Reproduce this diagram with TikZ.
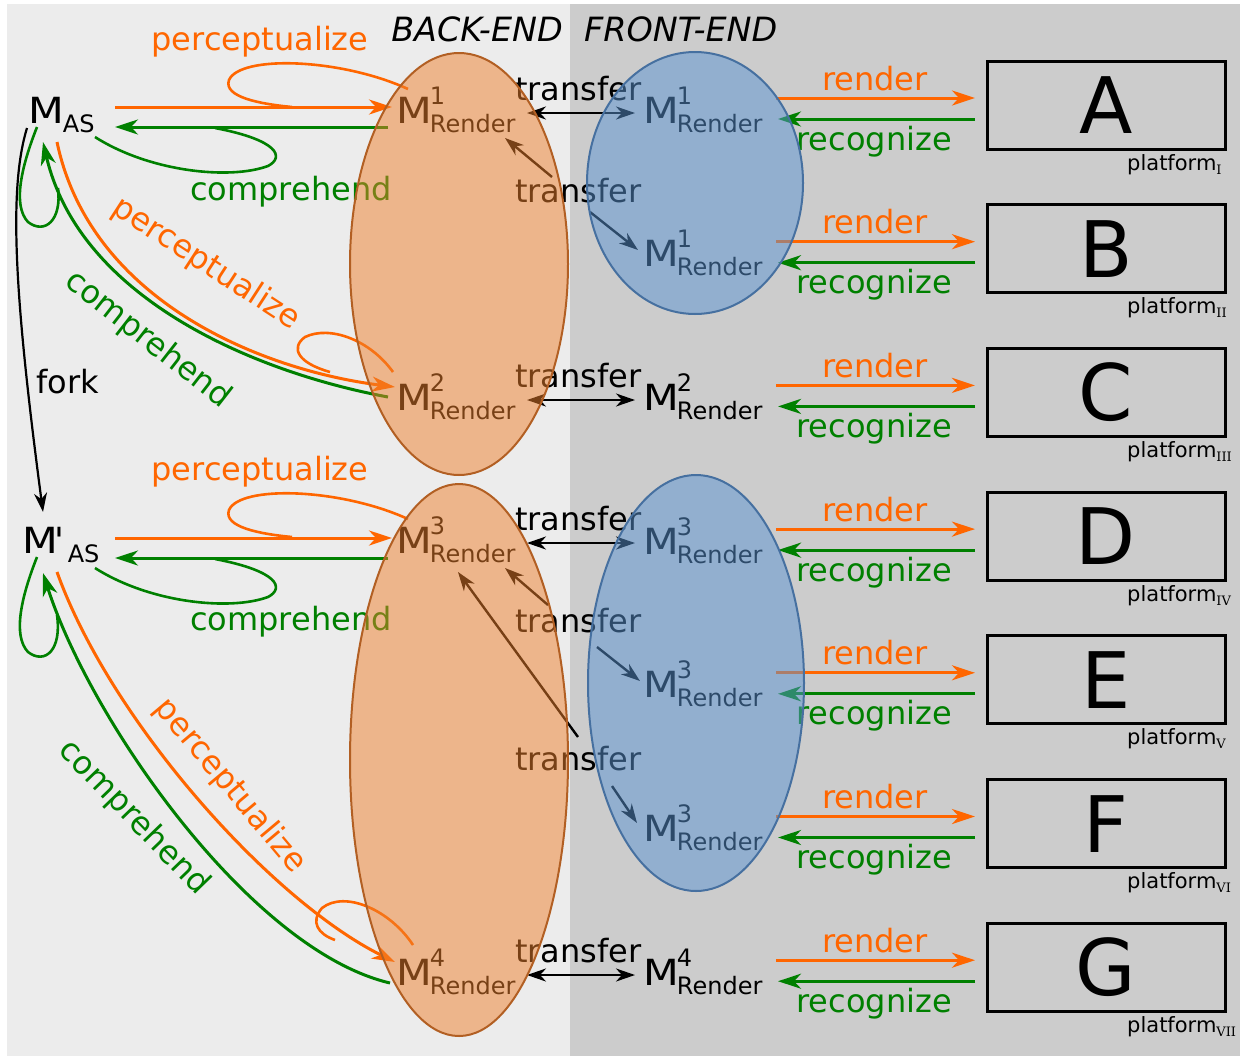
\documentclass[tikz,border=0pt]{standalone}
\usepackage{fontspec}
\setmainfont{DejaVu Sans}
\newfontfamily\romnum{DejaVu Serif}
\newfontfamily\plainsans{DejaVu Sans}
\usetikzlibrary{arrows.meta}

\definecolor{orng}{RGB}{255,102,0}
\definecolor{grn}{RGB}{0,128,0}
\definecolor{bgL}{RGB}{236,236,236}
\definecolor{bgR}{RGB}{204,204,204}
\definecolor{beFill}{RGB}{238,128,44}
\definecolor{beLine}{RGB}{178,95,35}
\definecolor{feFill}{RGB}{90,148,211}
\definecolor{feLine}{RGB}{70,112,160}

\newcommand{\subsz}{\fontsize{24}{24}\selectfont}
\newcommand{\bigM}{\scalebox{1.15}[1]{M}}
\newcommand{\MRen}[1]{\bigM\kern-2pt\rlap{\raisebox{19pt}{\subsz #1}}\raisebox{-9pt}{\subsz Render}}
\newcommand{\MAS}{\bigM\kern-1pt\raisebox{-9pt}{\subsz AS}}
\newcommand{\MpAS}{\bigM\kern-3pt{\plainsans'}\kern3pt\raisebox{-9pt}{\subsz AS}}
\newcommand{\plat}[1]{platform\raisebox{-4pt}{\romnum\fontsize{13}{13}\selectfont #1}}

\tikzset{
  mnode/.style={inner sep=0pt, anchor=base west, font=\fontsize{36}{36}\selectfont},
  lbl/.style={inner sep=0pt, font=\fontsize{32}{32}\selectfont},
  hdr/.style={inner sep=0pt, font=\fontsize{33.4}{33.4}\selectfont\itshape},
  tipbig/.tip={Stealth[length=23pt,width=15pt,inset=7pt]},
  tipsmall/.tip={Stealth[length=19pt,width=13pt,inset=6pt]},
  arr/.style={line width=3pt, -tipbig},
  thinarr/.style={line width=2.4pt, -tipsmall},
  dblarr/.style={line width=2.4pt, tipsmall-tipsmall},
  curve/.style={line width=2.6pt},
  platbox/.style={draw, line width=3pt, minimum width=238pt, minimum height=88pt, inner sep=0pt},
  letter/.style={inner sep=0pt, anchor=base, font=\fontsize{78}{78}\selectfont},
  platlbl/.style={inner sep=0pt, anchor=base west, font=\fontsize{21}{21}\selectfont},
  beEll/.style={draw=beLine, line width=2pt, fill=beFill, fill opacity=0.5},
  feEll/.style={draw=feLine, line width=2pt, fill=feFill, fill opacity=0.5}
}

\begin{document}
\begin{tikzpicture}[x=1pt,y=-1pt]
\useasboundingbox (0,0) rectangle (1240,1058);

% two panels
\fill[bgL] (7,4) rectangle (570,1056);
\fill[bgR] (570,4) rectangle (1240,1056);

% headings
\node[hdr, anchor=base east] (hBE) at (563,41) {BACK-END};
\node[hdr, anchor=base west] (hFE) at (584,41) {FRONT-END};

% abstract-syntax models
\node[mnode] (mas) at (28,123) {\MAS};
\node[mnode] (mpas) at (22,553) {\MpAS};

% back-end render models
\node[mnode] (be1) at (396,123) {\MRen{1}};
\node[mnode] (be2) at (396,410) {\MRen{2}};
\node[mnode] (be3) at (396,553) {\MRen{3}};
\node[mnode] (be4) at (396,985) {\MRen{4}};

% front-end rows: render model, platform box and the two arrows
\foreach \L/\R/\S [count=\i from 0] in {A/I/1,B/II/1,C/III/2,D/IV/3,E/V/3,F/VI/3,G/VII/4} {
  \pgfmathsetmacro\yb{123+143.7*\i}
  \node[mnode] (fe\L) at (643,\yb) {\MRen{\S}};
  \node[platbox] (box\L) at (1106,\yb-18) {};
  \node[letter] (let\L) at (1106,\yb+10.5) {\L};
  \node[platlbl] (pl\L) at (1127,\yb+47) {\plat{\R}};
  \coordinate (rs\L) at (776,\yb-25);
  \coordinate (re\L) at (975,\yb-25);
  \coordinate (gs\L) at (975,\yb-4);
  \coordinate (ge\L) at (778,\yb-4);
  \draw[arr, orng] (rs\L) -- (re\L);
  \draw[arr, grn] (gs\L) -- (ge\L);
  \node[lbl, anchor=base, text=orng] (rl\L) at (875,\yb-33) {render};
  \node[lbl, anchor=base, text=grn] (gl\L) at (874,\yb+27) {recognize};
}

% transfers between back-end and front-end
\foreach \n/\y in {1/123,2/410,3/553,4/985} {
  \coordinate (tl\n) at (527,\y-10);
  \coordinate (tr\n) at (635,\y-10);
  \draw[dblarr] (tl\n) -- (tr\n);
  \node[lbl, anchor=base west] (tx\n) at (515,\y-23) {transfer};
}

% diagonal transfers
\node[lbl, anchor=base west] (tdA) at (515,202) {transfer};
\coordinate (dA1s) at (552,177); \coordinate (dA1e) at (505,138);
\coordinate (dA2s) at (590,212); \coordinate (dA2e) at (638,250);
\draw[thinarr] (dA1s) -- (dA1e);
\draw[thinarr] (dA2s) -- (dA2e);

\node[lbl, anchor=base west] (tdB) at (515,632) {transfer};
\coordinate (dB1s) at (548,605); \coordinate (dB1e) at (505,568);
\coordinate (dB2s) at (597,647); \coordinate (dB2e) at (640,681);
\draw[thinarr] (dB1s) -- (dB1e);
\draw[thinarr] (dB2s) -- (dB2e);

\node[lbl, anchor=base west] (tdC) at (515,770) {transfer};
\coordinate (dC1s) at (578,737); \coordinate (dC1e) at (458,572);
\coordinate (dC2s) at (612,786); \coordinate (dC2e) at (637,823);
\draw[thinarr] (dC1s) -- (dC1e);
\draw[thinarr] (dC2s) -- (dC2e);

% --- upper abstract model and its links ---
\coordinate (p1s) at (115,107); \coordinate (p1e) at (392,107);
\draw[arr, orng] (p1s) -- (p1e);
\draw[curve, orng] (408,89) .. controls (340,58) and (240,55) .. (229,80)
  .. controls (223,97) and (260,104) .. (292,107);
\node[lbl, anchor=base, text=orng] (pl1) at (260,50) {perceptualize};

\coordinate (c1s) at (388,127); \coordinate (c1e) at (115,127);
\draw[arr, grn] (c1s) -- (c1e);
\draw[curve, grn] (95,137) .. controls (150,172) and (230,180) .. (268,166)
  .. controls (285,157) and (278,140) .. (215,128);
\node[lbl, anchor=base, text=grn] (cl1) at (291,200) {comprehend};

% to and from the second back-end model
\coordinate (p2s) at (57,142); \coordinate (p2e) at (395,387);
\draw[arr, orng] (p2s) .. controls (90,300) and (260,370) .. (p2e);
\draw[curve, orng] (393,372) .. controls (370,340) and (330,325) .. (305,337)
  .. controls (290,348) and (298,363) .. (330,372);
\node[lbl, text=orng, rotate=-33] (pl2) at (206,264) {perceptualize};

\coordinate (c2s) at (388,397); \coordinate (c2e) at (43,142);
\draw[arr, grn] (c2s) .. controls (258,373) and (80,300) .. (c2e);
\draw[curve, grn] (37,127) .. controls (22,165) and (12,205) .. (28,222)
  .. controls (45,235) and (62,220) .. (58,188);
\node[lbl, text=grn, rotate=-38] (cl2) at (148,340) {comprehend};

% fork
\coordinate (fk1) at (27,128); \coordinate (fk2) at (43,512);
\draw[line width=2.2pt, -tipsmall] (fk1) .. controls (8,190) and (15,300) .. (fk2);
\node[lbl, anchor=base west] (fork) at (36,393) {fork};

% --- lower abstract model and its links ---
\coordinate (p3s) at (115,538); \coordinate (p3e) at (392,538);
\draw[arr, orng] (p3s) -- (p3e);
\draw[curve, orng] (408,519) .. controls (340,488) and (240,485) .. (229,510)
  .. controls (223,527) and (260,534) .. (292,537);
\node[lbl, anchor=base, text=orng] (pl3) at (260,480) {perceptualize};

\coordinate (c3s) at (388,558); \coordinate (c3e) at (115,558);
\draw[arr, grn] (c3s) -- (c3e);
\draw[curve, grn] (95,568) .. controls (150,603) and (230,611) .. (268,597)
  .. controls (285,588) and (278,571) .. (215,559);
\node[lbl, anchor=base, text=grn] (cl3) at (291,630) {comprehend};

\coordinate (p4s) at (57,572); \coordinate (p4e) at (395,962);
\draw[arr, orng] (p4s) .. controls (110,720) and (270,900) .. (p4e);
\draw[curve, orng] (413,945) .. controls (390,910) and (345,890) .. (322,908)
  .. controls (310,922) and (318,934) .. (335,940);
\node[lbl, text=orng, rotate=-50] (pl4) at (230,786) {perceptualize};

\coordinate (c4s) at (390,983); \coordinate (c4e) at (43,573);
\draw[arr, grn] (c4s) .. controls (250,950) and (90,720) .. (c4e);
\draw[curve, grn] (37,557) .. controls (22,595) and (12,635) .. (28,652)
  .. controls (45,665) and (62,650) .. (57,615);
\node[lbl, text=grn, rotate=-46] (cl4) at (134,818) {comprehend};

% translucent back-end and front-end groups
\draw[beEll] (459,264) ellipse [x radius=109pt, y radius=211pt];
\draw[beEll] (459,760) ellipse [x radius=109pt, y radius=276pt];
\draw[feEll] (695,183) ellipse [x radius=108pt, y radius=131pt];
\draw[feEll] (696,683) ellipse [x radius=108pt, y radius=208pt];
\end{tikzpicture}
\end{document}
